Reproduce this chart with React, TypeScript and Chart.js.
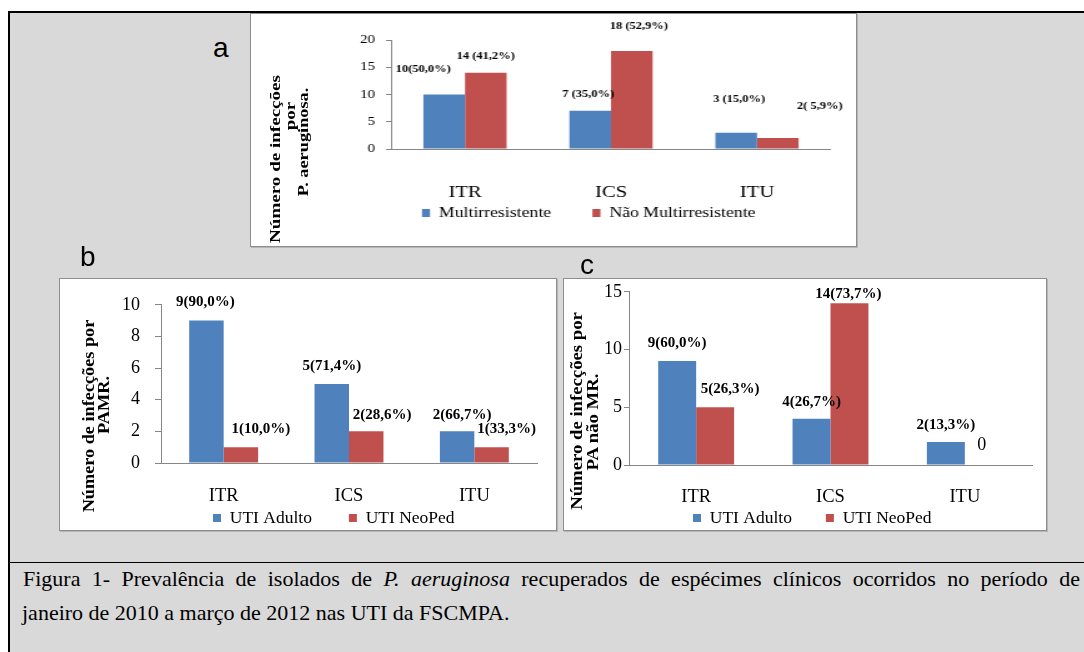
import React, { useEffect, useRef } from "react";
import { Chart, registerables } from "chart.js";

Chart.register(...registerables);

// ---------------- data ----------------
const categories = ["ITR", "ICS", "ITU"];

const seriesA = ["Multirresistente", "Não Multirresistente"];
const aMulti = [10, 7, 3];
const aNaoMulti = [14, 18, 2];
const aMultiLabels = ["10(50,0%)", "7 (35,0%)", "3 (15,0%)"];
const aNaoMultiLabels = ["14 (41,2%)", "18 (52,9%)", "2( 5,9%)"];

const seriesUTI = ["UTI Adulto", "UTI NeoPed"];
const bAdulto = [9, 5, 2];
const bNeoPed = [1, 2, 1];
const bAdultoLabels = ["9(90,0%)", "5(71,4%)", "2(66,7%)"];
const bNeoPedLabels = ["1(10,0%)", "2(28,6%)", "1(33,3%)"];

const cAdulto = [9, 4, 2];
const cNeoPed = [5, 14, 0];
const cAdultoLabels = ["9(60,0%)", "4(26,7%)", "2(13,3%)"];
const cNeoPedLabels = ["5(26,3%)", "14(73,7%)", "0"];

const yMaxA = 20, yStepA = 5;
const yMaxB = 10, yStepB = 2;
const yMaxC = 15, yStepC = 5;

const captionLine1Pre = "Figura 1- Prevalência de isolados de ";
const captionItalic = "P. aeruginosa";
const captionLine1Post = " recuperados de espécimes clínicos ocorridos no período de";
const captionLine2 = "janeiro de 2010 a março de 2012 nas UTI da FSCMPA.";

// ---------------- styles ----------------
const SERIF = "'Liberation Serif','Times New Roman',serif";
const SANS = "'Liberation Sans',Arial,sans-serif";
const BLUE = "#4f81bd";
const RED = "#c0504d";
const AXIS = "#868686";

type Spec = {
  left: number; top: number; iw: number; ih: number; cssW: number; cssH: number;
  padL: number; padR: number; padT: number; plotBottom: number;
  yW: number; xH: number; yMax: number; yStep: number; yFont: number; tl: number; yPad: number;
  xFont: number; xPad: number; legFont: number; boxW: number; boxH: number; legPad: number;
  legX: number; legY: number;
  catPct: number; series: string[]; values: number[][]; texts: string[][];
  offsets: number[][][]; labelFont: (i: number, j: number) => string;
};

function labelPlugin(texts: string[][], offsets: number[][][], fontFor: (i: number, j: number) => string) {
  return {
    id: "barLabels",
    afterDatasetsDraw(chart: any) {
      const ctx = chart.ctx;
      ctx.save();
      ctx.fillStyle = "#000";
      ctx.textAlign = "center";
      ctx.textBaseline = "middle";
      chart.data.datasets.forEach((_ds: any, i: number) => {
        const meta = chart.getDatasetMeta(i);
        meta.data.forEach((el: any, j: number) => {
          const off = offsets[i][j];
          ctx.font = fontFor(i, j);
          ctx.fillText(texts[i][j], el.x + off[0], el.y + off[1]);
        });
      });
      ctx.restore();
    },
  };
}

// moves the legend block so that its first box starts at legX and its text is centred on legY
function legendPlacePlugin(legX: number, legY: number) {
  return {
    id: "legendPlace",
    afterLayout(chart: any) {
      const lg = chart.legend;
      if (!lg || !lg.lineWidths) return;
      const P = lg.options.labels.padding;
      const fs = lg.options.labels.font.size;
      const itemH = Math.max(fs, lg.options.labels.boxHeight || fs);
      const start = (lg.left + P + lg.right - lg.lineWidths[0]) / 2;
      const dx = legX - start;
      const dy = legY - (lg.top + P + itemH / 2);
      lg.left += dx; lg.right += dx;
      lg.top += dy; lg.bottom += dy;
    },
  };
}

function BarPanel({ spec }: { spec: Spec }) {
  const ref = useRef<HTMLCanvasElement>(null);
  useEffect(() => {
    const s = spec;
    const legendH = Math.max(s.legFont, s.boxH) + s.legPad + 10;
    const padB = s.ih - s.plotBottom - s.xH - legendH;
    const chart = new Chart(ref.current as HTMLCanvasElement, {
      type: "bar",
      data: {
        labels: categories,
        datasets: s.series.map((name, i) => ({
          label: name,
          data: s.values[i],
          backgroundColor: i === 0 ? BLUE : RED,
          borderWidth: 0,
          barPercentage: 1,
          categoryPercentage: s.catPct,
        })),
      },
      options: {
        responsive: false,
        animation: false,
        devicePixelRatio: 1,
        events: [],
        layout: { padding: { left: s.padL, right: s.padR, top: s.padT, bottom: padB } },
        plugins: {
          tooltip: { enabled: false },
          legend: {
            display: true,
            position: "bottom",
            labels: {
              boxWidth: s.boxW,
              boxHeight: s.boxH,
              padding: s.legPad,
              color: "#000",
              font: { family: SERIF, size: s.legFont },
            },
          },
        },
        scales: {
          x: {
            grid: { display: false, drawTicks: false },
            border: { display: true, color: AXIS, width: 1 },
            ticks: { color: "#000", font: { family: SERIF, size: s.xFont }, padding: s.xPad },
            afterFit: (sc: any) => { sc.height = s.xH; },
          },
          y: {
            min: 0,
            max: s.yMax,
            grid: { display: true, drawOnChartArea: false, drawTicks: true, tickLength: s.tl, color: AXIS },
            border: { display: true, color: AXIS, width: 1 },
            ticks: { stepSize: s.yStep, color: "#000", font: { family: SERIF, size: s.yFont }, padding: s.yPad },
            afterFit: (sc: any) => { sc.width = s.yW; },
          },
        },
      } as any,
      plugins: [labelPlugin(s.texts, s.offsets, s.labelFont), legendPlacePlugin(s.legX, s.legY)],
    });
    return () => chart.destroy();
  }, []);
  return (
    <canvas
      ref={ref}
      width={spec.iw}
      height={spec.ih}
      style={{ position: "absolute", left: spec.left, top: spec.top, width: spec.cssW, height: spec.cssH }}
    />
  );
}

const specA: Spec = {
  left: 251, top: 14, iw: 484, ih: 232, cssW: 605, cssH: 232,
  padL: 0, padR: 20.8, padT: 26, plotBottom: 135,
  yW: 112.8, xH: 56, yMax: yMaxA, yStep: yStepA, yFont: 12, tl: 4.8, yPad: 8.8,
  xFont: 16.5, xPad: 34, legFont: 14.2, boxW: 6.4, boxH: 8, legPad: 33,
  legX: 136.8, legY: 199,
  catPct: 0.57, series: seriesA, values: [aMulti, aNaoMulti], texts: [aMultiLabels, aNaoMultiLabels],
  offsets: [
    [[-16.8, -25], [-1.6, -16], [2.4, -33]],
    [[0, -16], [5.6, -24], [33.6, -32]],
  ],
  labelFont: () => `bold 10px ${SERIF}`,
};

const specB: Spec = {
  left: 60, top: 279, iw: 496, ih: 251, cssW: 496, cssH: 251,
  padL: 0, padR: 19, padT: 15, plotBottom: 184,
  yW: 101, xH: 46, yMax: yMaxB, yStep: yStepB, yFont: 18, tl: 6, yPad: 15,
  xFont: 18.5, xPad: 21.9, legFont: 17.5, boxW: 8, boxH: 8, legPad: 37,
  legX: 153, legY: 239,
  catPct: 0.55, series: seriesUTI, values: [bAdulto, bNeoPed], texts: [bAdultoLabels, bNeoPedLabels],
  offsets: [
    [[-1, -18], [0, -18], [5, -16]],
    [[20, -18], [16, -16], [15, -18]],
  ],
  labelFont: () => `bold 15px ${SERIF}`,
};

const specC: Spec = {
  left: 564, top: 279, iw: 482, ih: 251, cssW: 482, cssH: 251,
  padL: 0, padR: 14, padT: 11, plotBottom: 186,
  yW: 65, xH: 45, yMax: yMaxC, yStep: yStepC, yFont: 18, tl: 5, yPad: 2,
  xFont: 18.5, xPad: 20.9, legFont: 17.5, boxW: 8, boxH: 8, legPad: 34,
  legX: 129, legY: 239,
  catPct: 0.565, series: seriesUTI, values: [cAdulto, cNeoPed], texts: [cAdultoLabels, cNeoPedLabels],
  offsets: [
    [[0, -18], [0, -17], [0, -17]],
    [[15, -18], [-1, -9], [-2, -20]],
  ],
  labelFont: (i, j) => (i === 1 && j === 2 ? `18px ${SERIF}` : `bold 15px ${SERIF}`),
};

function VTitle({ text, cx, cy, size, stretch }: { text: string; cx: number; cy: number; size: number; stretch: number }) {
  return (
    <div
      style={{
        position: "absolute", left: cx, top: cy,
        transform: `translate(-50%,-50%) rotate(-90deg) scaleX(${stretch})`,
        whiteSpace: "nowrap", fontWeight: "bold", fontSize: size, lineHeight: 1.15, fontFamily: SERIF, color: "#000",
      }}
    >
      {text}
    </div>
  );
}

function Letter({ ch, left, top }: { ch: string; left: number; top: number }) {
  return (
    <div style={{ position: "absolute", left, top, fontFamily: SANS, fontSize: 28, lineHeight: "28px", color: "#000" }}>
      {ch}
    </div>
  );
}

const box = (left: number, top: number, width: number, height: number): React.CSSProperties => ({
  position: "absolute", left, top, width, height, boxSizing: "border-box",
  border: "1px solid #8e8e8e", background: "#fff", boxShadow: "1px 1px 0 #b5b5b5",
});

export default function App() {
  return (
    <div style={{ position: "relative", width: 1084, height: 652, overflow: "hidden", background: "#fff" }}>
      <style>{`html,body{margin:0;padding:0;overflow:hidden;background:#fff}`}</style>
      <div
        style={{
          position: "absolute", left: 8, top: 11, width: 1100, height: 700, background: "#d9d9d9",
          borderTop: "2px solid #000", borderLeft: "2px solid #000", boxSizing: "border-box",
        }}
      />
      <div style={{ position: "absolute", left: 8, top: 562, width: 1100, height: 1, background: "#000" }} />

      <div style={box(250, 13, 607, 234)} />
      <div style={box(59, 278, 498, 253)} />
      <div style={box(563, 278, 484, 253)} />

      <BarPanel spec={specA} />
      <BarPanel spec={specB} />
      <BarPanel spec={specC} />

      <VTitle text="Número de infecções" cx={276} cy={159} size={15} stretch={1.27} />
      <VTitle text="por" cx={291} cy={116} size={15} stretch={1.27} />
      <VTitle text="P. aeruginosa." cx={304} cy={142} size={15} stretch={1.22} />

      <VTitle text="Número de infecções por" cx={89} cy={416} size={16} stretch={1.14} />
      <VTitle text="PAMR." cx={104} cy={405} size={16} stretch={1.14} />

      <VTitle text="Número de infecções por" cx={577} cy={411} size={16} stretch={1.17} />
      <VTitle text="PA não MR." cx={593} cy={422} size={16} stretch={1.17} />

      <Letter ch="a" left={213} top={34} />
      <Letter ch="b" left={80} top={243} />
      <Letter ch="c" left={580} top={251} />

      <div
        style={{
          position: "absolute", left: 23, top: 567.6, width: 1057, fontFamily: SERIF, fontSize: 22,
          lineHeight: "22px", textAlign: "justify", textAlignLast: "justify", color: "#000",
        } as React.CSSProperties}
      >
        {captionLine1Pre}
        <i>{captionItalic}</i>
        {captionLine1Post}
      </div>
      <div
        style={{
          position: "absolute", left: 22, top: 602, fontFamily: SERIF, fontSize: 22,
          lineHeight: "22px", whiteSpace: "nowrap", color: "#000",
        }}
      >
        {captionLine2}
      </div>
    </div>
  );
}
